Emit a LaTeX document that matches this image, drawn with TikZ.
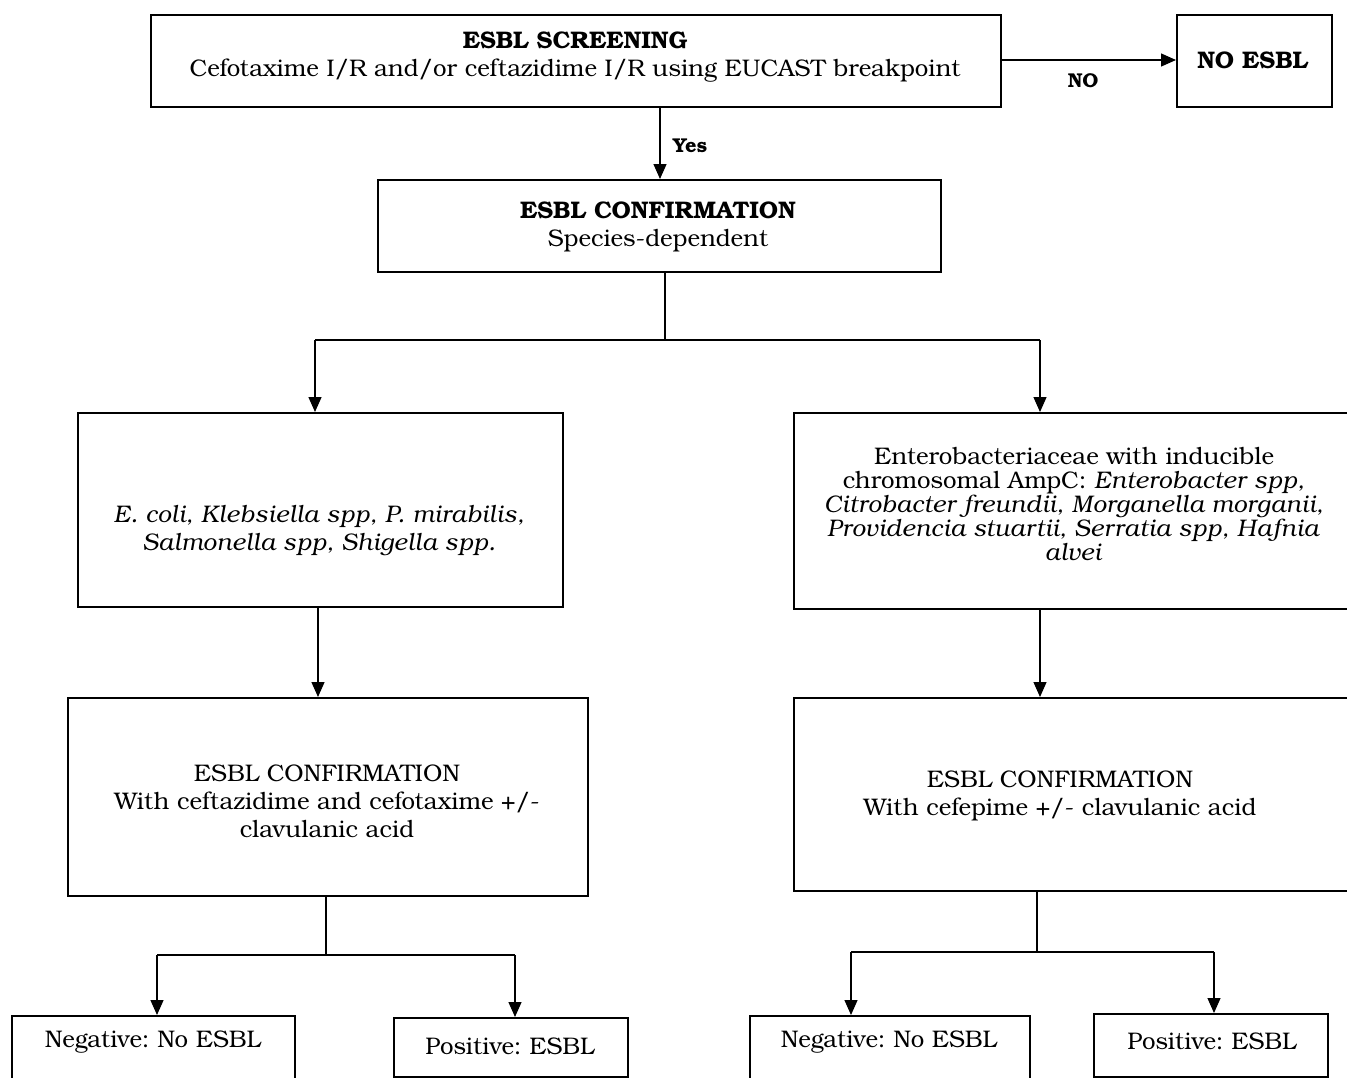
\documentclass[tikz,border=0pt]{standalone}
\usepackage{fontspec}
\setmainfont{TeX Gyre Bonum}[ItalicFeatures={LetterSpace=2.5}]
\usetikzlibrary{arrows.meta}
\frenchspacing
\begin{document}
\begin{tikzpicture}[x=1pt,y=-1pt,
  box/.style={draw,line width=2.4pt,inner sep=0pt,anchor=north west},
  txt/.style={align=center,inner sep=0pt,font=\fontsize{24}{28}\selectfont},
  conn/.style={line width=1.3pt},
  arr/.style={line width=1.3pt,-{Triangle[length=15pt,width=13pt]}}]
\clip (0,0) rectangle (1347,1077);
% boxes
\node[box,minimum width=850pt,minimum height=92pt] (scr) at (150,14) {};
\node[box,minimum width=155pt,minimum height=92pt] (no) at (1176,14) {};
\node[box,minimum width=563pt,minimum height=92pt] (conf) at (377,179) {};
\node[box,minimum width=485pt,minimum height=194pt] (lb) at (77,412) {};
\node[box,minimum width=600pt,minimum height=196pt] (rb) at (793,412) {};
\node[box,minimum width=520pt,minimum height=198pt] (lc) at (67,697) {};
\node[box,minimum width=600pt,minimum height=193pt] (rc) at (793,697) {};
\node[box,minimum width=283pt,minimum height=100pt] (ln) at (11,1015) {};
\node[box,minimum width=234pt,minimum height=59pt] (lp) at (393,1017) {};
\node[box,minimum width=280pt,minimum height=100pt] (rn) at (749,1015) {};
\node[box,minimum width=234pt,minimum height=63pt] (rp) at (1093,1013) {};
% texts
\node[txt] (scrt) at (575,57) {\textbf{ESBL SCREENING}\\Cefotaxime I/R and/or ceftazidime I/R using EUCAST breakpoint};
\node[txt] (not) at (1253,60) {\textbf{NO ESBL}};
\node[txt] (conft) at (658,227) {\textbf{ESBL CONFIRMATION}\\Species-dependent};
\node[txt] (lbt) at (319,531) {\itshape E. coli, Klebsiella spp, P. mirabilis,\\\itshape Salmonella spp, Shigella spp.};
\node[txt,font=\fontsize{24}{24}\selectfont] (rbt) at (1074,504) {Enterobacteriaceae with inducible\\chromosomal AmpC: \textit{Enterobacter spp,}\\\textit{Citrobacter freundii, Morganella morganii,}\\\textit{Providencia stuartii, Serratia spp, Hafnia}\\\textit{alvei}};
\node[txt] (lct) at (327,801) {ESBL CONFIRMATION\\With ceftazidime and cefotaxime +/-\\clavulanic acid};
\node[txt] (rct) at (1060,796) {ESBL CONFIRMATION\\With cefepime +/- clavulanic acid};
\node[txt] (lnt) at (153,1042) {Negative: No ESBL};
\node[txt] (lpt) at (510,1046) {Positive: ESBL};
\node[txt] (rnt) at (889,1042) {Negative: No ESBL};
\node[txt] (rpt) at (1212,1041) {Positive: ESBL};
% labels
\node[txt,font=\fontsize{20}{24}\selectfont\bfseries] (nolab) at (1083,81) {NO};
\node[txt,font=\fontsize{20}{24}\selectfont\bfseries] (yeslab) at (690,146) {Yes};
% connectors
\draw[arr] (scr.east |- 0,60) -- (no.west |- 0,60);
\draw[arr] (scr.south -| 660,0) -- (conf.north -| 660,0);
\coordinate (j1) at (665,340);
\coordinate (j1l) at (315,340);
\coordinate (j1r) at (1040,340);
\draw[conn] (conf.south -| j1) -- (j1);
\draw[conn] (j1l) -- (j1r);
\draw[arr] (j1l) -- (lb.north -| j1l);
\draw[arr] (j1r) -- (rb.north -| j1r);
\draw[arr] (lb.south -| 318,0) -- (lc.north -| 318,0);
\draw[arr] (rb.south -| 1040,0) -- (rc.north -| 1040,0);
\coordinate (j2) at (326,955);
\coordinate (j2l) at (157,955);
\coordinate (j2r) at (515,955);
\draw[conn] (lc.south -| j2) -- (j2);
\draw[conn] (j2l) -- (j2r);
\draw[arr] (j2l) -- (ln.north -| j2l);
\draw[arr] (j2r) -- (lp.north -| j2r);
\coordinate (j3) at (1037,952);
\coordinate (j3l) at (851,952);
\coordinate (j3r) at (1214,952);
\draw[conn] (rc.south -| j3) -- (j3);
\draw[conn] (j3l) -- (j3r);
\draw[arr] (j3l) -- (rn.north -| j3l);
\draw[arr] (j3r) -- (rp.north -| j3r);
\end{tikzpicture}
\end{document}
